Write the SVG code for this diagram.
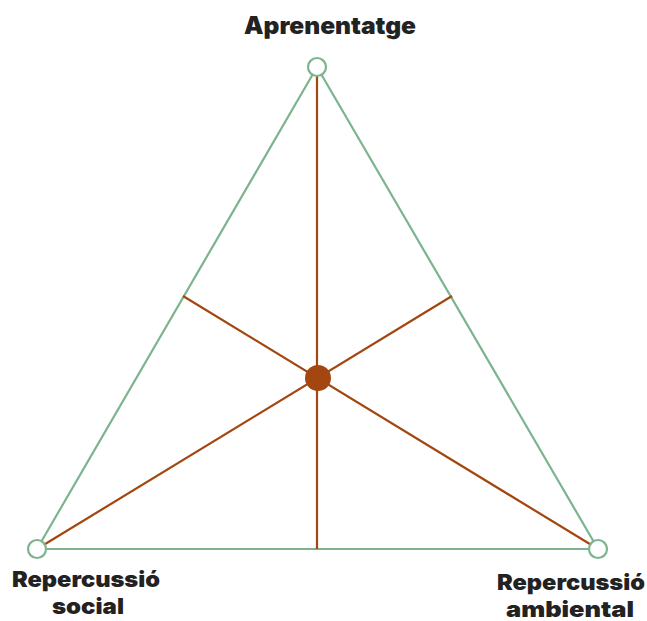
<svg xmlns="http://www.w3.org/2000/svg" width="647" height="621" viewBox="0 0 647 621">
<style>
.tri{fill:none;stroke:#7DB38F;stroke-width:2.2;stroke-linejoin:round}
.med{stroke:#A3460F;stroke-width:2.2;fill:none}
.vtx{fill:#fff;stroke:#7DB38F;stroke-width:2.2}
.lbl{font-family:Inter,"Noto Sans",sans-serif;font-weight:900;font-size:22px;fill:#222;text-anchor:middle}
</style>
<rect width="647" height="621" fill="#fff"/>
<g id="connectors">
<polygon class="tri" points="317,67 37,549 598,549"/>
<line class="med" x1="317" y1="67" x2="317" y2="549"/>
<line class="med" x1="37" y1="549" x2="452" y2="296"/>
<line class="med" x1="598" y1="549" x2="183" y2="296"/>
</g>
<g id="center"><circle cx="318" cy="378" r="13" fill="#A3460F"/></g>
<g id="aprenentatge">
<circle class="vtx" cx="317" cy="67" r="9"/>
<text class="lbl" x="330" y="34" style="font-size:24px" textLength="172" lengthAdjust="spacingAndGlyphs">Aprenentatge</text>
</g>
<g id="social">
<circle class="vtx" cx="37" cy="549" r="9"/>
<text class="lbl" x="86" y="587" textLength="148" lengthAdjust="spacingAndGlyphs">Repercussió</text>
<text class="lbl" x="88" y="614" textLength="72" lengthAdjust="spacingAndGlyphs">social</text>
</g>
<g id="ambiental">
<circle class="vtx" cx="598" cy="549" r="9"/>
<text class="lbl" x="571" y="590" textLength="148" lengthAdjust="spacingAndGlyphs">Repercussió</text>
<text class="lbl" x="570" y="617" textLength="128" lengthAdjust="spacingAndGlyphs">ambiental</text>
</g>
</svg>
